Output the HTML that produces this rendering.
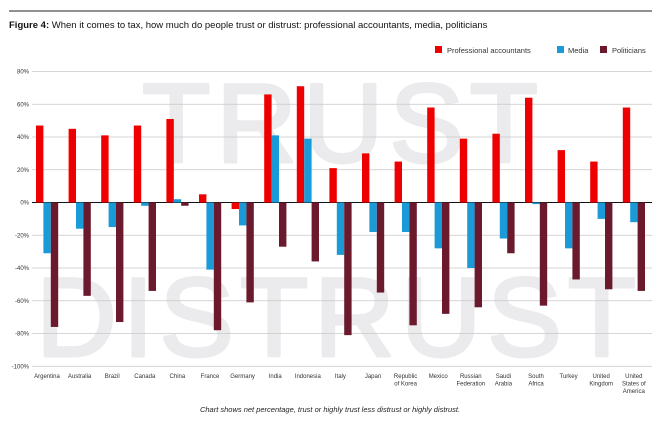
<!DOCTYPE html>
<html><head><meta charset="utf-8"><style>
html,body{margin:0;padding:0;background:#fff;}
body{width:660px;height:425px;overflow:hidden;font-family:"Liberation Sans",sans-serif;}
</style></head><body>
<svg id="chart" width="660" height="425" xmlns="http://www.w3.org/2000/svg" font-family="Liberation Sans, sans-serif">
<line x1="9" y1="11" x2="652" y2="11" stroke="#222" stroke-width="1"/>
<text x="9" y="28" font-size="9.5" fill="#111"><tspan font-weight="bold">Figure 4:</tspan> When it comes to tax, how much do people trust or distrust: professional accountants, media, politicians</text>
<g font-size="7.5" fill="#333">
<rect x="435" y="46" width="7" height="7" fill="#ee0000"/>
<text x="447" y="53">Professional accountants</text>
<rect x="557" y="46" width="7" height="7" fill="#1a9bd7"/>
<text x="568" y="53">Media</text>
<rect x="600" y="46" width="7" height="7" fill="#6b1a2e"/>
<text x="612" y="53">Politicians</text>
</g>
<text x="142" y="162" font-size="112" fill="#ebebed" stroke="#ebebed" stroke-width="3" stroke-linejoin="round" textLength="396" lengthAdjust="spacing">TRUST</text>
<text x="36" y="356" font-size="112" fill="#ebebed" stroke="#ebebed" stroke-width="3" stroke-linejoin="round" textLength="600" lengthAdjust="spacing">DISTRUST</text>
<g id="grid"></g>
<g id="bars"></g>
<g id="xlabels"></g>
<text x="330" y="412" font-size="7.5" font-style="italic" fill="#222" text-anchor="middle">Chart shows net percentage, trust or highly trust less distrust or highly distrust.</text>
</svg>
<script>
const categories = [["Argentina"],["Australia"],["Brazil"],["Canada"],["China"],["France"],["Germany"],["India"],["Indonesia"],["Italy"],["Japan"],["Republic","of Korea"],["Mexico"],["Russian","Federation"],["Saudi","Arabia"],["South","Africa"],["Turkey"],["United","Kingdom"],["United","States of","America"]];
const accountants = [47,45,41,47,51,5,-4,66,71,21,30,25,58,39,42,64,32,25,58];
const media = [-31,-16,-15,-2,2,-41,-14,41,39,-32,-18,-18,-28,-40,-22,-1,-28,-10,-12];
const politicians = [-76,-57,-73,-54,-2,-78,-61,-27,-36,-81,-55,-75,-68,-64,-31,-63,-47,-53,-54];
const yTicks = [80,60,40,20,0,-20,-40,-60,-80,-100];
const NS='http://www.w3.org/2000/svg';
function y(v){return 202.5 - v*1.6375;}
function xBand(i){return 33 + i*32.6;}
const grid=document.getElementById('grid');
yTicks.forEach(t=>{
  const l=document.createElementNS(NS,'line');
  
  
  l.setAttribute('x1',32);l.setAttribute('x2',652);
  l.setAttribute('y1',y(t));l.setAttribute('y2',y(t));
  l.setAttribute('stroke',t===0?'#111':'#c8c8c8');l.setAttribute('stroke-width',t===0?1:0.8);
  grid.appendChild(l);
  const tx=document.createElementNS(NS,'text');
  
  
  tx.setAttribute('x',29);tx.setAttribute('y',y(t)+2);
  tx.setAttribute('font-size','6');tx.setAttribute('text-anchor','end');tx.setAttribute('fill','#333');
  tx.textContent=t+'%';
  grid.appendChild(tx);
});
const bars=document.getElementById('bars');
const series=[[accountants,'#ee0000','bar-accountants'],[media,'#1a9bd7','bar-media'],[politicians,'#6b1a2e','bar-politicians']];
series.forEach((s,si)=>{
  s[0].forEach((v,i)=>{
    const r=document.createElementNS(NS,'rect');
    
    
    const x=xBand(i)+3+si*7.4;
    r.setAttribute('x',x);r.setAttribute('width',7.4);
    r.setAttribute('y',Math.min(y(v),y(0)));r.setAttribute('height',Math.abs(y(v)-y(0)));
    r.setAttribute('fill',s[1]);
    bars.appendChild(r);
  });
});
const xl=document.getElementById('xlabels');
categories.forEach((c,i)=>{
  const t=document.createElementNS(NS,'text');
  
  
  t.setAttribute('font-size','6');t.setAttribute('text-anchor','middle');t.setAttribute('fill','#333');
  c.forEach((line,k)=>{
    const ts=document.createElementNS(NS,'tspan');
    ts.setAttribute('x',xBand(i)+14);ts.setAttribute('y',378+k*7.5);
    ts.textContent=line;t.appendChild(ts);
  });
  xl.appendChild(t);
});
</script>
</body></html>
